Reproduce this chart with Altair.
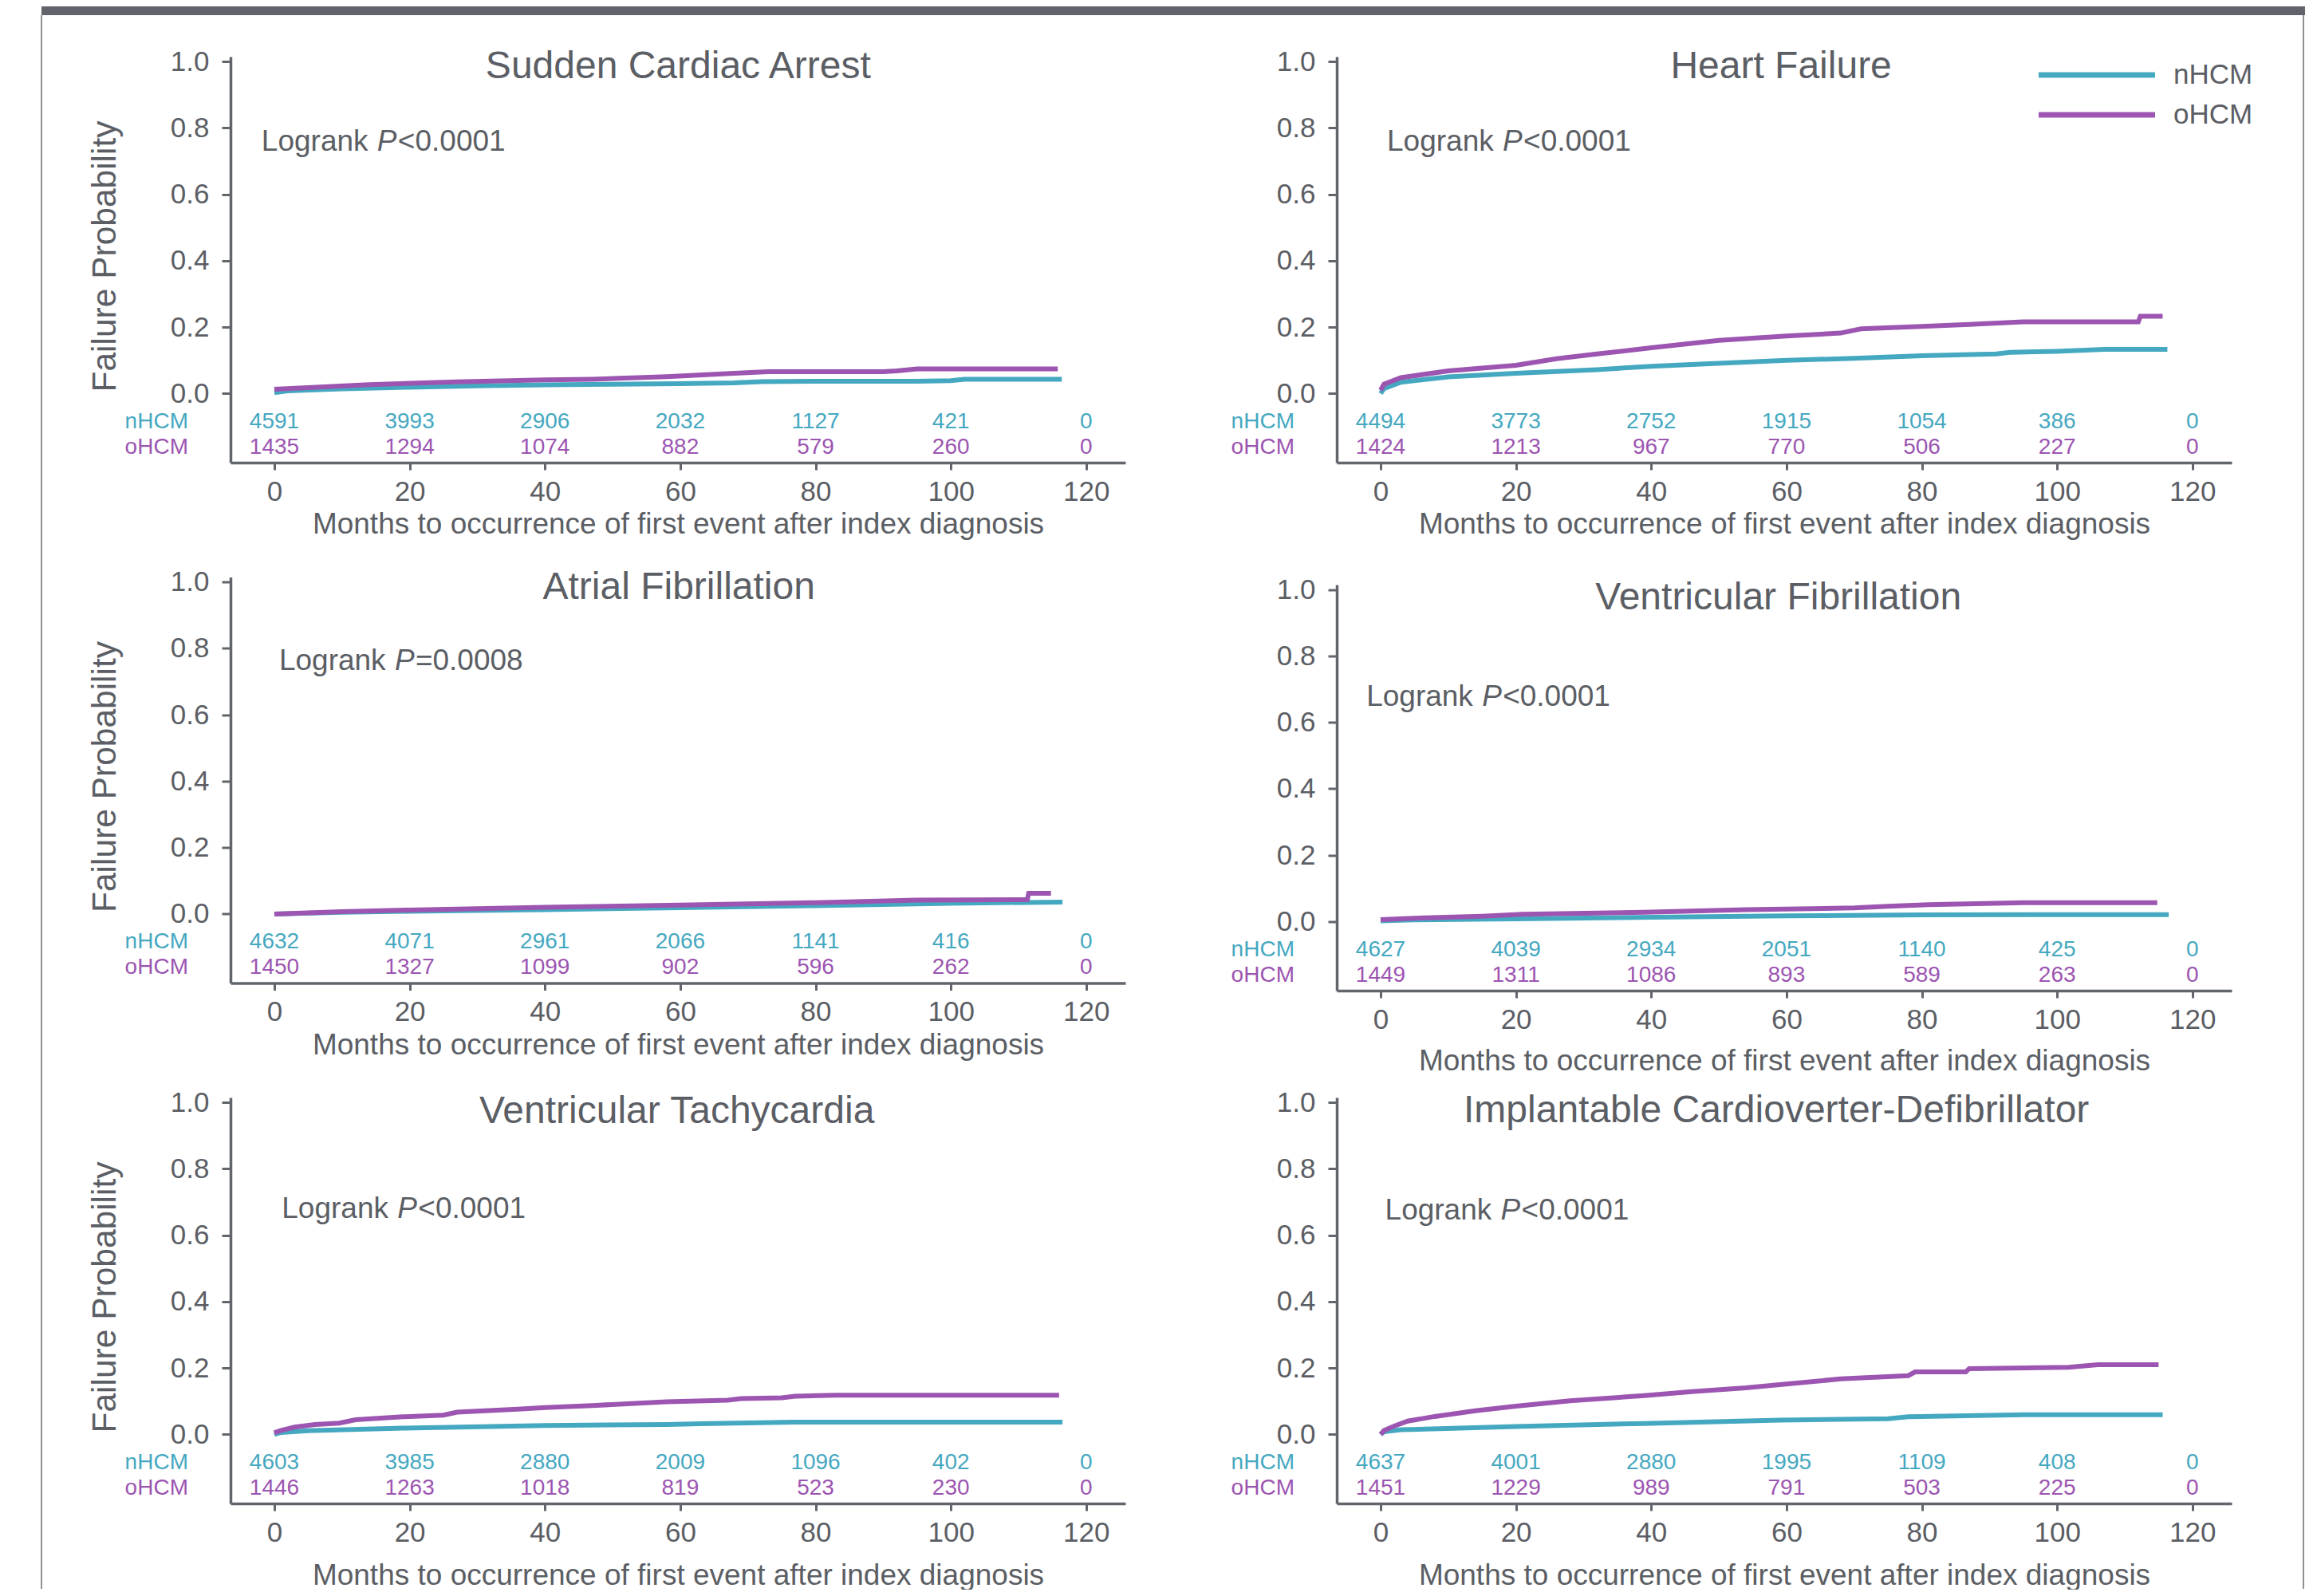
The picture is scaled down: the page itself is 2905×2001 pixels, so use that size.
import altair as alt
import pandas as pd

TEAL = "#45A8C1"
PURPLE = "#9C55B1"
TXT = "#5B5E64"
AXC = "#62666C"
BAR = "#61656B"
BORDER = "#8E9196"
FONT = "Liberation Sans"

# ---------------- data ----------------
panel_titles = ["Sudden Cardiac Arrest", "Heart Failure", "Atrial Fibrillation",
                "Ventricular Fibrillation", "Ventricular Tachycardia",
                "Implantable Cardioverter-Defibrillator"]
logrank_ops = ["<0.0001", "<0.0001", "=0.0008", "<0.0001", "<0.0001", "<0.0001"]
risk_months = [0, 20, 40, 60, 80, 100, 120]
y_ticks = [0.0, 0.2, 0.4, 0.6, 0.8, 1.0]

sca_risk_n = [4591, 3993, 2906, 2032, 1127, 421, 0]
sca_risk_o = [1435, 1294, 1074, 882, 579, 260, 0]
hf_risk_n = [4494, 3773, 2752, 1915, 1054, 386, 0]
hf_risk_o = [1424, 1213, 967, 770, 506, 227, 0]
af_risk_n = [4632, 4071, 2961, 2066, 1141, 416, 0]
af_risk_o = [1450, 1327, 1099, 902, 596, 262, 0]
vf_risk_n = [4627, 4039, 2934, 2051, 1140, 425, 0]
vf_risk_o = [1449, 1311, 1086, 893, 589, 263, 0]
vt_risk_n = [4603, 3985, 2880, 2009, 1096, 402, 0]
vt_risk_o = [1446, 1263, 1018, 819, 523, 230, 0]
icd_risk_n = [4637, 4001, 2880, 1995, 1109, 408, 0]
icd_risk_o = [1451, 1229, 989, 791, 503, 225, 0]

sca_n_t = [0, 2, 10, 20, 30, 40, 50, 60, 68, 72, 80, 95, 100, 102, 116.4]
sca_n_v = [0.003, 0.008, 0.014, 0.019, 0.023, 0.026, 0.028, 0.030, 0.032, 0.036, 0.037, 0.037, 0.039, 0.043, 0.043]
sca_o_t = [0, 5, 14, 27, 40, 47, 58, 68, 73, 90, 92, 95, 115.8]
sca_o_v = [0.013, 0.018, 0.027, 0.035, 0.041, 0.043, 0.051, 0.061, 0.066, 0.066, 0.068, 0.074, 0.074]

hf_n_t = [0, 0.5, 3, 10, 20, 32, 40, 50, 60, 70, 80, 91, 93, 100, 107, 116.3]
hf_n_v = [0.0, 0.015, 0.034, 0.050, 0.061, 0.072, 0.082, 0.091, 0.100, 0.106, 0.114, 0.119, 0.124, 0.127, 0.133, 0.133]
hf_o_t = [0, 0.5, 3, 10, 20, 26, 32, 40, 50, 60, 68, 71, 80, 87, 95, 112, 112.3, 115.6]
hf_o_v = [0.01, 0.028, 0.048, 0.068, 0.085, 0.105, 0.119, 0.138, 0.160, 0.173, 0.182, 0.195, 0.202, 0.208, 0.216, 0.216, 0.233, 0.233]

af_n_t = [0, 10, 20, 40, 60, 80, 100, 116.5]
af_n_v = [0.0, 0.005, 0.008, 0.013, 0.019, 0.025, 0.032, 0.036]
af_o_t = [0, 10, 20, 40, 60, 80, 95, 111.3, 111.5, 114.8]
af_o_v = [0.0, 0.007, 0.012, 0.020, 0.027, 0.034, 0.042, 0.043, 0.062, 0.062]

vf_n_t = [0, 5, 20, 40, 60, 80, 100, 116.5]
vf_n_v = [0.002, 0.005, 0.008, 0.013, 0.017, 0.020, 0.021, 0.021]
vf_o_t = [0, 5, 15, 21, 39, 54, 70, 75, 81, 95, 114.8]
vf_o_v = [0.006, 0.010, 0.016, 0.022, 0.028, 0.036, 0.041, 0.046, 0.051, 0.057, 0.057]

vt_n_t = [0, 1, 5, 19, 40, 58, 63, 77, 116.5]
vt_n_v = [0.0, 0.006, 0.011, 0.019, 0.027, 0.030, 0.032, 0.037, 0.037]
vt_o_t = [0, 1, 3, 6, 9.6, 12, 19, 25, 27, 36, 40, 47, 58, 67, 69, 75, 77, 83, 116]
vt_o_v = [0.005, 0.012, 0.022, 0.030, 0.034, 0.044, 0.053, 0.058, 0.067, 0.076, 0.081, 0.087, 0.098, 0.103, 0.108, 0.110, 0.115, 0.118, 0.118]

icd_n_t = [0, 0.5, 3, 20, 39, 59, 75, 78, 95, 115.6]
icd_n_v = [0.0, 0.008, 0.014, 0.024, 0.033, 0.043, 0.047, 0.053, 0.059, 0.059]
icd_o_t = [0, 0.5, 2, 4, 8, 14, 20, 28, 39, 46, 54, 59, 68, 78, 79, 86.5, 87, 101.7, 106, 115]
icd_o_v = [0.0, 0.012, 0.025, 0.040, 0.054, 0.071, 0.085, 0.101, 0.117, 0.129, 0.140, 0.150, 0.167, 0.177, 0.188, 0.188, 0.198, 0.202, 0.210, 0.210]

panels_data = [
    (sca_n_t, sca_n_v, sca_o_t, sca_o_v, sca_risk_n, sca_risk_o),
    (hf_n_t, hf_n_v, hf_o_t, hf_o_v, hf_risk_n, hf_risk_o),
    (af_n_t, af_n_v, af_o_t, af_o_v, af_risk_n, af_risk_o),
    (vf_n_t, vf_n_v, vf_o_t, vf_o_v, vf_risk_n, vf_risk_o),
    (vt_n_t, vt_n_v, vt_o_t, vt_o_v, vt_risk_n, vt_risk_o),
    (icd_n_t, icd_n_v, icd_o_t, icd_o_v, icd_risk_n, icd_risk_o),
]

# ---------------- layout (pixels / annotation placement) ----------------
layout = [
    dict(left=True, shift=0, xty=88, lr=(-1.9, 0.758), tt=(59.7, 0.983)),
    dict(left=False, shift=0, xty=88, lr=(0.95, 0.758), tt=(59.2, 0.983)),
    dict(left=True, shift=0, xty=89, lr=(0.7, 0.761), tt=(59.8, 0.981)),
    dict(left=False, shift=9.5, xty=99, lr=(-2.1, 0.677), tt=(58.8, 0.973)),
    dict(left=True, shift=0, xty=101, lr=(1.1, 0.678), tt=(59.5, 0.972)),
    dict(left=False, shift=0, xty=101, lr=(0.66, 0.674), tt=(58.5, 0.973)),
]

XDOM = [-6.48, 125.8]
YDOM = [-0.208, 1.0145]
W, H = 1122, 509
RISK_Y = (-0.085, -0.162)


def frame_layers():
    one = pd.DataFrame({"k": [0]})
    bar = alt.Chart(one).mark_rect(color=BAR).encode(
        x=alt.value(-237), x2=alt.value(2601), y=alt.value(-63), y2=alt.value(-52))
    lb = alt.Chart(one).mark_rect(color=BORDER).encode(
        x=alt.value(-238), x2=alt.value(-236), y=alt.value(-52), y2=alt.value(1921))
    rb = alt.Chart(one).mark_rect(color=BORDER).encode(
        x=alt.value(2598), x2=alt.value(2600), y=alt.value(-52), y2=alt.value(1921))
    return [bar, lb, rb]


def make_panel(i):
    nt, nv, ot, ov, rn, ro = panels_data[i]
    L = layout[i]
    shift = L["shift"]
    xs = alt.Scale(domain=XDOM, nice=False, zero=False)
    if shift:
        ys = alt.Scale(domain=YDOM, nice=False, zero=False, range=[H + shift, shift])
    else:
        ys = alt.Scale(domain=YDOM, nice=False, zero=False)

    xaxis = alt.Axis(values=risk_months, format="d",
                     title="Months to occurrence of first event after index diagnosis",
                     tickSize=9, labelPadding=10, titleY=L["xty"], titleBaseline="alphabetic",
                     titleFontSize=37, offset=shift, labelFlush=False)
    ykw = dict(values=y_ticks, format=".1f", tickSize=11, labelPadding=16)
    if L["left"]:
        yaxis = alt.Axis(title="Failure Probability", titleAngle=270, titleX=-145, titleY=250,
                         titleBaseline="alphabetic", titleAlign="center", titleFontSize=42.5, **ykw)
    else:
        yaxis = alt.Axis(title=None, **ykw)

    def X(field):
        return alt.X(field, scale=xs, axis=xaxis)

    def Y(field):
        return alt.Y(field, scale=ys, axis=yaxis)

    cdf = pd.concat([
        pd.DataFrame({"month": nt, "prob": nv, "group": "nHCM", "ord": range(len(nt))}),
        pd.DataFrame({"month": ot, "prob": ov, "group": "oHCM", "ord": range(len(ot))}),
    ], ignore_index=True)

    if i == 1:
        legend = alt.Legend(orient="none", legendX=876.5, legendY=-2, title=None,
                            symbolType="stroke", symbolSize=146 * 146, symbolStrokeWidth=7,
                            labelFontSize=35, labelColor=TXT, labelFont=FONT, labelOffset=19.5,
                            clipHeight=50, padding=0, rowPadding=0, symbolOpacity=1)
    else:
        legend = None

    layers = []
    if i == 0:
        layers += frame_layers()

    lines = alt.Chart(cdf).mark_line(strokeWidth=6).encode(
        x=X("month:Q"),
        y=Y("prob:Q"),
        color=alt.Color("group:N", scale=alt.Scale(domain=["nHCM", "oHCM"], range=[TEAL, PURPLE]),
                        legend=legend),
        order="ord:Q",
    )
    layers.append(lines)

    for vals, ypos, col, lab in ((rn, RISK_Y[0], TEAL, "nHCM"), (ro, RISK_Y[1], PURPLE, "oHCM")):
        rdf = pd.DataFrame({"month": risk_months, "prob": [ypos] * len(risk_months),
                            "n": [str(v) for v in vals]})
        layers.append(alt.Chart(rdf).mark_text(fontSize=28, font=FONT, color=col, baseline="middle").encode(
            x=X("month:Q"), y=Y("prob:Q"), text="n:N"))
        ldf = pd.DataFrame({"month": [0], "prob": [ypos], "lab": [lab]})
        layers.append(alt.Chart(ldf).mark_text(fontSize=28, font=FONT, color=col, baseline="middle",
                                               align="right", dx=-108).encode(
            x=X("month:Q"), y=Y("prob:Q"), text="lab:N"))

    tdf = pd.DataFrame({"month": [L["tt"][0]], "prob": [L["tt"][1]], "t": [panel_titles[i]]})
    layers.append(alt.Chart(tdf).mark_text(fontSize=48, font=FONT, color=TXT, baseline="middle",
                                           align="center").encode(
        x=X("month:Q"), y=Y("prob:Q"), text="t:N"))

    gdf = pd.DataFrame({"month": [L["lr"][0]], "prob": [L["lr"][1]]})
    for txt, dx, style in (("Logrank", 0, "normal"), ("P", 145, "italic"),
                           (logrank_ops[i], 171, "normal")):
        layers.append(alt.Chart(gdf).mark_text(text=txt, fontSize=37, font=FONT, color=TXT,
                                               baseline="middle", align="left", dx=dx,
                                               fontStyle=style).encode(
            x=X("month:Q"), y=Y("prob:Q")))

    return alt.layer(*layers).properties(width=W, height=H)


panels = [make_panel(i) for i in range(6)]

chart = alt.concat(*panels, columns=2, spacing={"row": 143.5, "column": 265}, bounds="flush").resolve_scale(
    color="independent").resolve_legend(color="independent").properties(
    padding={"left": 43, "top": 0, "right": 0, "bottom": 0}
).configure(font=FONT).configure_view(stroke=None).configure_axis(
    domainColor=AXC, domainWidth=3.5, tickColor=AXC, tickWidth=3,
    labelColor=TXT, labelFont=FONT, labelFontSize=35,
    titleColor=TXT, titleFont=FONT, titleFontWeight="normal", grid=False)

chart.save("out.html", embed_options={"renderer": "svg", "actions": False})
